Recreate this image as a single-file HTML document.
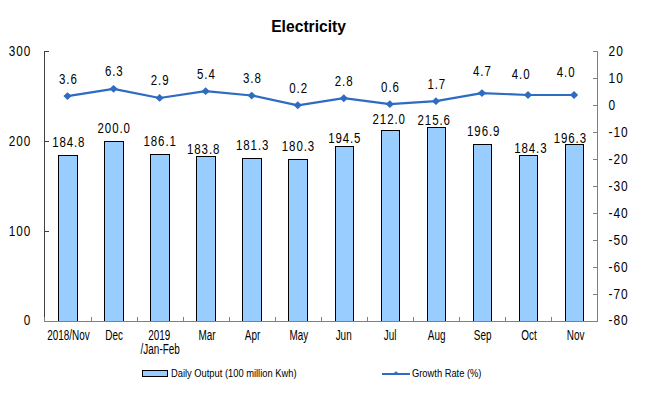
<!DOCTYPE html><html><head><meta charset="utf-8"><style>html,body{margin:0;padding:0;background:#fff;width:659px;height:416px;overflow:hidden}</style></head><body><svg width="659" height="416" viewBox="0 0 659 416" style="display:block">
<rect width="659" height="416" fill="#fff"/>
<text transform="translate(308.6,32) scale(0.98,1)" text-anchor="middle" font-family="&quot;Liberation Sans&quot;, sans-serif" font-size="16" font-weight="bold" fill="#000">Electricity</text>
<rect x="58.5" y="155.5" width="19" height="166" fill="#99CCFF" stroke="#000" stroke-width="1"/>
<rect x="104.5" y="141.5" width="19" height="180" fill="#99CCFF" stroke="#000" stroke-width="1"/>
<rect x="150.5" y="154.5" width="19" height="167" fill="#99CCFF" stroke="#000" stroke-width="1"/>
<rect x="196.5" y="156.5" width="19" height="165" fill="#99CCFF" stroke="#000" stroke-width="1"/>
<rect x="242.5" y="158.5" width="19" height="163" fill="#99CCFF" stroke="#000" stroke-width="1"/>
<rect x="288.5" y="159.5" width="19" height="162" fill="#99CCFF" stroke="#000" stroke-width="1"/>
<rect x="335.5" y="146.5" width="18" height="175" fill="#99CCFF" stroke="#000" stroke-width="1"/>
<rect x="381.5" y="130.5" width="18" height="191" fill="#99CCFF" stroke="#000" stroke-width="1"/>
<rect x="427.5" y="127.5" width="18" height="194" fill="#99CCFF" stroke="#000" stroke-width="1"/>
<rect x="473.5" y="144.5" width="18" height="177" fill="#99CCFF" stroke="#000" stroke-width="1"/>
<rect x="519.5" y="155.5" width="18" height="166" fill="#99CCFF" stroke="#000" stroke-width="1"/>
<rect x="565.5" y="144.5" width="18" height="177" fill="#99CCFF" stroke="#000" stroke-width="1"/>
<path d="M44.5,51 V321" stroke="#404040" stroke-width="1" fill="none"/>
<path d="M44,51.5 H49" stroke="#404040" stroke-width="1"/>
<path d="M44,141.5 H49" stroke="#404040" stroke-width="1"/>
<path d="M44,231.5 H49" stroke="#404040" stroke-width="1"/>
<path d="M44,321.5 H49" stroke="#404040" stroke-width="1"/>
<path d="M44,321.5 H598" stroke="#808080" stroke-width="1"/>
<path d="M44.5,317 V321" stroke="#808080" stroke-width="1"/>
<path d="M91.5,317 V321" stroke="#808080" stroke-width="1"/>
<path d="M137.5,317 V321" stroke="#808080" stroke-width="1"/>
<path d="M183.5,317 V321" stroke="#808080" stroke-width="1"/>
<path d="M229.5,317 V321" stroke="#808080" stroke-width="1"/>
<path d="M275.5,317 V321" stroke="#808080" stroke-width="1"/>
<path d="M321.5,317 V321" stroke="#808080" stroke-width="1"/>
<path d="M367.5,317 V321" stroke="#808080" stroke-width="1"/>
<path d="M413.5,317 V321" stroke="#808080" stroke-width="1"/>
<path d="M459.5,317 V321" stroke="#808080" stroke-width="1"/>
<path d="M505.5,317 V321" stroke="#808080" stroke-width="1"/>
<path d="M551.5,317 V321" stroke="#808080" stroke-width="1"/>
<path d="M597.5,51 V321.5" stroke="#808080" stroke-width="1" fill="none"/>
<path d="M593,51.5 H598" stroke="#808080" stroke-width="1"/>
<path d="M593,78.5 H598" stroke="#808080" stroke-width="1"/>
<path d="M593,105.5 H598" stroke="#808080" stroke-width="1"/>
<path d="M593,132.5 H598" stroke="#808080" stroke-width="1"/>
<path d="M593,159.5 H598" stroke="#808080" stroke-width="1"/>
<path d="M593,186.5 H598" stroke="#808080" stroke-width="1"/>
<path d="M593,213.5 H598" stroke="#808080" stroke-width="1"/>
<path d="M593,240.5 H598" stroke="#808080" stroke-width="1"/>
<path d="M593,267.5 H598" stroke="#808080" stroke-width="1"/>
<path d="M593,294.5 H598" stroke="#808080" stroke-width="1"/>
<path d="M593,321.5 H598" stroke="#808080" stroke-width="1"/>
<text transform="translate(31.2,56.2) scale(0.84,1)" text-anchor="end" font-family="&quot;Liberation Sans&quot;, sans-serif" font-size="14" letter-spacing="1.1" fill="#000">300</text>
<text transform="translate(31.2,146.2) scale(0.84,1)" text-anchor="end" font-family="&quot;Liberation Sans&quot;, sans-serif" font-size="14" letter-spacing="1.1" fill="#000">200</text>
<text transform="translate(31.2,236.2) scale(0.84,1)" text-anchor="end" font-family="&quot;Liberation Sans&quot;, sans-serif" font-size="14" letter-spacing="1.1" fill="#000">100</text>
<text transform="translate(31.2,325.2) scale(0.84,1)" text-anchor="end" font-family="&quot;Liberation Sans&quot;, sans-serif" font-size="14" letter-spacing="1.1" fill="#000">0</text>
<text transform="translate(608.6,56.2) scale(0.85,1)" font-family="&quot;Liberation Sans&quot;, sans-serif" font-size="14" letter-spacing="1.1" fill="#000">20</text>
<text transform="translate(608.6,83.2) scale(0.85,1)" font-family="&quot;Liberation Sans&quot;, sans-serif" font-size="14" letter-spacing="1.1" fill="#000">10</text>
<text transform="translate(608.6,110.2) scale(0.85,1)" font-family="&quot;Liberation Sans&quot;, sans-serif" font-size="14" letter-spacing="1.1" fill="#000">0</text>
<text transform="translate(608.6,137.2) scale(0.85,1)" font-family="&quot;Liberation Sans&quot;, sans-serif" font-size="14" letter-spacing="1.1" fill="#000">-10</text>
<text transform="translate(608.6,164.2) scale(0.85,1)" font-family="&quot;Liberation Sans&quot;, sans-serif" font-size="14" letter-spacing="1.1" fill="#000">-20</text>
<text transform="translate(608.6,191.2) scale(0.85,1)" font-family="&quot;Liberation Sans&quot;, sans-serif" font-size="14" letter-spacing="1.1" fill="#000">-30</text>
<text transform="translate(608.6,218.2) scale(0.85,1)" font-family="&quot;Liberation Sans&quot;, sans-serif" font-size="14" letter-spacing="1.1" fill="#000">-40</text>
<text transform="translate(608.6,245.2) scale(0.85,1)" font-family="&quot;Liberation Sans&quot;, sans-serif" font-size="14" letter-spacing="1.1" fill="#000">-50</text>
<text transform="translate(608.6,272.2) scale(0.85,1)" font-family="&quot;Liberation Sans&quot;, sans-serif" font-size="14" letter-spacing="1.1" fill="#000">-60</text>
<text transform="translate(608.6,299.2) scale(0.85,1)" font-family="&quot;Liberation Sans&quot;, sans-serif" font-size="14" letter-spacing="1.1" fill="#000">-70</text>
<text transform="translate(608.6,325.2) scale(0.85,1)" font-family="&quot;Liberation Sans&quot;, sans-serif" font-size="14" letter-spacing="1.1" fill="#000">-80</text>
<polyline points="67.5,96.1 113.5,88.8 159.6,98.0 205.6,91.2 251.7,95.5 297.8,105.3 343.8,98.2 389.8,104.2 435.9,101.2 481.9,93.1 528.0,95.0 574.0,95.0" fill="none" stroke="#2E6BC2" stroke-width="2.2" stroke-linejoin="round"/>
<path d="M67.50,92.18 L71.60,96.08 L67.50,99.98 L63.40,96.08Z" fill="#2E6BC2"/>
<path d="M113.55,84.89 L117.65,88.79 L113.55,92.69 L109.45,88.79Z" fill="#2E6BC2"/>
<path d="M159.60,94.07 L163.70,97.97 L159.60,101.87 L155.50,97.97Z" fill="#2E6BC2"/>
<path d="M205.65,87.32 L209.75,91.22 L205.65,95.12 L201.55,91.22Z" fill="#2E6BC2"/>
<path d="M251.70,91.64 L255.80,95.54 L251.70,99.44 L247.60,95.54Z" fill="#2E6BC2"/>
<path d="M297.75,101.36 L301.85,105.26 L297.75,109.16 L293.65,105.26Z" fill="#2E6BC2"/>
<path d="M343.80,94.34 L347.90,98.24 L343.80,102.14 L339.70,98.24Z" fill="#2E6BC2"/>
<path d="M389.85,100.28 L393.95,104.18 L389.85,108.08 L385.75,104.18Z" fill="#2E6BC2"/>
<path d="M435.90,97.31 L440.00,101.21 L435.90,105.11 L431.80,101.21Z" fill="#2E6BC2"/>
<path d="M481.95,89.21 L486.05,93.11 L481.95,97.01 L477.85,93.11Z" fill="#2E6BC2"/>
<path d="M528.00,91.10 L532.10,95.00 L528.00,98.90 L523.90,95.00Z" fill="#2E6BC2"/>
<path d="M574.05,91.10 L578.15,95.00 L574.05,98.90 L569.95,95.00Z" fill="#2E6BC2"/>
<text transform="translate(68.35,84) scale(0.82,1)" text-anchor="middle" font-family="&quot;Liberation Sans&quot;, sans-serif" font-size="14" letter-spacing="1.1" fill="#000">3.6</text>
<text transform="translate(114.25,76) scale(0.82,1)" text-anchor="middle" font-family="&quot;Liberation Sans&quot;, sans-serif" font-size="14" letter-spacing="1.1" fill="#000">6.3</text>
<text transform="translate(160.15,85) scale(0.82,1)" text-anchor="middle" font-family="&quot;Liberation Sans&quot;, sans-serif" font-size="14" letter-spacing="1.1" fill="#000">2.9</text>
<text transform="translate(206.35,79) scale(0.82,1)" text-anchor="middle" font-family="&quot;Liberation Sans&quot;, sans-serif" font-size="14" letter-spacing="1.1" fill="#000">5.4</text>
<text transform="translate(252.35,83) scale(0.82,1)" text-anchor="middle" font-family="&quot;Liberation Sans&quot;, sans-serif" font-size="14" letter-spacing="1.1" fill="#000">3.8</text>
<text transform="translate(298.65,93) scale(0.82,1)" text-anchor="middle" font-family="&quot;Liberation Sans&quot;, sans-serif" font-size="14" letter-spacing="1.1" fill="#000">0.2</text>
<text transform="translate(344.15,86) scale(0.82,1)" text-anchor="middle" font-family="&quot;Liberation Sans&quot;, sans-serif" font-size="14" letter-spacing="1.1" fill="#000">2.8</text>
<text transform="translate(390.45,92) scale(0.82,1)" text-anchor="middle" font-family="&quot;Liberation Sans&quot;, sans-serif" font-size="14" letter-spacing="1.1" fill="#000">0.6</text>
<text transform="translate(436.75,89) scale(0.82,1)" text-anchor="middle" font-family="&quot;Liberation Sans&quot;, sans-serif" font-size="14" letter-spacing="1.1" fill="#000">1.7</text>
<text transform="translate(482.35,76) scale(0.82,1)" text-anchor="middle" font-family="&quot;Liberation Sans&quot;, sans-serif" font-size="14" letter-spacing="1.1" fill="#000">4.7</text>
<text transform="translate(521.15,79) scale(0.82,1)" text-anchor="middle" font-family="&quot;Liberation Sans&quot;, sans-serif" font-size="14" letter-spacing="1.1" fill="#000">4.0</text>
<text transform="translate(566.15,77) scale(0.82,1)" text-anchor="middle" font-family="&quot;Liberation Sans&quot;, sans-serif" font-size="14" letter-spacing="1.1" fill="#000">4.0</text>
<text transform="translate(68.75,147) scale(0.82,1)" text-anchor="middle" font-family="&quot;Liberation Sans&quot;, sans-serif" font-size="14" letter-spacing="1.1" fill="#000">184.8</text>
<text transform="translate(114.20,133) scale(0.82,1)" text-anchor="middle" font-family="&quot;Liberation Sans&quot;, sans-serif" font-size="14" letter-spacing="1.1" fill="#000">200.0</text>
<text transform="translate(160.15,146) scale(0.82,1)" text-anchor="middle" font-family="&quot;Liberation Sans&quot;, sans-serif" font-size="14" letter-spacing="1.1" fill="#000">186.1</text>
<text transform="translate(203.65,154) scale(0.82,1)" text-anchor="middle" font-family="&quot;Liberation Sans&quot;, sans-serif" font-size="14" letter-spacing="1.1" fill="#000">183.8</text>
<text transform="translate(252.65,150) scale(0.82,1)" text-anchor="middle" font-family="&quot;Liberation Sans&quot;, sans-serif" font-size="14" letter-spacing="1.1" fill="#000">181.3</text>
<text transform="translate(298.45,151) scale(0.82,1)" text-anchor="middle" font-family="&quot;Liberation Sans&quot;, sans-serif" font-size="14" letter-spacing="1.1" fill="#000">180.3</text>
<text transform="translate(344.75,143) scale(0.82,1)" text-anchor="middle" font-family="&quot;Liberation Sans&quot;, sans-serif" font-size="14" letter-spacing="1.1" fill="#000">194.5</text>
<text transform="translate(389.20,124) scale(0.82,1)" text-anchor="middle" font-family="&quot;Liberation Sans&quot;, sans-serif" font-size="14" letter-spacing="1.1" fill="#000">212.0</text>
<text transform="translate(434.20,125) scale(0.82,1)" text-anchor="middle" font-family="&quot;Liberation Sans&quot;, sans-serif" font-size="14" letter-spacing="1.1" fill="#000">215.6</text>
<text transform="translate(483.70,136) scale(0.82,1)" text-anchor="middle" font-family="&quot;Liberation Sans&quot;, sans-serif" font-size="14" letter-spacing="1.1" fill="#000">196.9</text>
<text transform="translate(530.85,153) scale(0.82,1)" text-anchor="middle" font-family="&quot;Liberation Sans&quot;, sans-serif" font-size="14" letter-spacing="1.1" fill="#000">184.3</text>
<text transform="translate(570.35,143) scale(0.82,1)" text-anchor="middle" font-family="&quot;Liberation Sans&quot;, sans-serif" font-size="14" letter-spacing="1.1" fill="#000">196.3</text>
<text transform="translate(68.45,340) scale(0.71,1)" text-anchor="middle" font-family="&quot;Liberation Sans&quot;, sans-serif" font-size="14" fill="#000">2018/Nov</text>
<text transform="translate(114.10,340) scale(0.71,1)" text-anchor="middle" font-family="&quot;Liberation Sans&quot;, sans-serif" font-size="14" fill="#000">Dec</text>
<text transform="translate(159.25,340) scale(0.71,1)" text-anchor="middle" font-family="&quot;Liberation Sans&quot;, sans-serif" font-size="14" fill="#000">2019</text>
<text transform="translate(160.20,354) scale(0.71,1)" text-anchor="middle" font-family="&quot;Liberation Sans&quot;, sans-serif" font-size="14" fill="#000">/Jan-Feb</text>
<text transform="translate(207.10,340) scale(0.71,1)" text-anchor="middle" font-family="&quot;Liberation Sans&quot;, sans-serif" font-size="14" fill="#000">Mar</text>
<text transform="translate(252.55,340) scale(0.71,1)" text-anchor="middle" font-family="&quot;Liberation Sans&quot;, sans-serif" font-size="14" fill="#000">Apr</text>
<text transform="translate(298.95,340) scale(0.71,1)" text-anchor="middle" font-family="&quot;Liberation Sans&quot;, sans-serif" font-size="14" fill="#000">May</text>
<text transform="translate(343.65,340) scale(0.71,1)" text-anchor="middle" font-family="&quot;Liberation Sans&quot;, sans-serif" font-size="14" fill="#000">Jun</text>
<text transform="translate(390.10,340) scale(0.71,1)" text-anchor="middle" font-family="&quot;Liberation Sans&quot;, sans-serif" font-size="14" fill="#000">Jul</text>
<text transform="translate(436.65,340) scale(0.71,1)" text-anchor="middle" font-family="&quot;Liberation Sans&quot;, sans-serif" font-size="14" fill="#000">Aug</text>
<text transform="translate(482.60,340) scale(0.71,1)" text-anchor="middle" font-family="&quot;Liberation Sans&quot;, sans-serif" font-size="14" fill="#000">Sep</text>
<text transform="translate(529.05,340) scale(0.71,1)" text-anchor="middle" font-family="&quot;Liberation Sans&quot;, sans-serif" font-size="14" fill="#000">Oct</text>
<text transform="translate(575.55,340) scale(0.71,1)" text-anchor="middle" font-family="&quot;Liberation Sans&quot;, sans-serif" font-size="14" fill="#000">Nov</text>
<rect x="142.5" y="370.5" width="25" height="6" fill="#99CCFF" stroke="#000"/>
<text transform="translate(171,377) scale(0.85,1)" font-family="&quot;Liberation Sans&quot;, sans-serif" font-size="11" fill="#000">Daily Output (100 million Kwh)</text>
<path d="M382,374 H410" stroke="#2E6BC2" stroke-width="2"/>
<path d="M396,371.3 L398,373 L396,375 L394,373Z" fill="#2E6BC2"/>
<text transform="translate(412,377) scale(0.85,1)" font-family="&quot;Liberation Sans&quot;, sans-serif" font-size="11" fill="#000">Growth Rate (%)</text>
</svg></body></html>
